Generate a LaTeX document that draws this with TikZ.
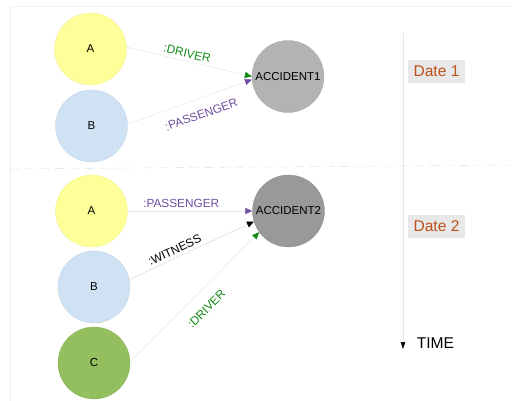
\documentclass[tikz,border=0pt]{standalone}
\usepackage{fontspec}
\setmainfont{Liberation Sans}
\usetikzlibrary{arrows.meta}
\definecolor{yel}{HTML}{FFFF99}
\definecolor{blu}{HTML}{CFE2F3}
\definecolor{grn}{HTML}{93BF5E}
\definecolor{acca}{HTML}{B3B3B3}
\definecolor{accb}{HTML}{999999}
\definecolor{drv}{HTML}{138A13}
\definecolor{psg}{HTML}{6E4E9E}
\definecolor{datec}{HTML}{C0501A}
\tikzset{
    person/.style={circle,minimum size=72pt,inner sep=0pt,fill=#1,draw=#1!92!black,line width=0.3pt,font=\fontsize{11.5}{13}\selectfont},
    rel/.style={line width=0.5pt,draw=#1!15,-{Triangle[length=7pt,width=6pt,color=#1]}},
    lbl/.style={sloped,text=#1,font=\fontsize{11.8}{13}\selectfont},
    datebox/.style={fill=gray!18,text=datec,minimum width=57pt,minimum height=23pt,inner sep=0pt,font=\fontsize{15.6}{17}\selectfont}
}
\begin{document}
\begin{tikzpicture}[x=1pt,y=-1pt]
\useasboundingbox (0,0) rectangle (512,401);
% frame and separator
\draw[gray!12] (10,401) -- (10,6) -- (512,6);
\draw[gray!25,dash pattern=on 9pt off 6pt] (10,169) -- (512,165);

% first date
\node[person=yel] (a1) at (90.5,49) {A};
\node[person=blu] (b1) at (91.5,126) {B};
\node[person=acca] (acc1) at (288,76.5) {ACCIDENT1};
\draw[rel=drv] (a1.3) -- (acc1.180) node[lbl=drv,pos=0.47,above]{:DRIVER};
\draw[rel=psg] (b1.3) -- (acc1.185) node[lbl=psg,pos=0.55,below=8pt]{:PASSENGER};

% second date
\node[person=yel] (a2) at (91.5,211) {A};
\node[person=blu] (b2) at (94,287) {B};
\node[person=grn] (c2) at (94,363) {C};
\node[person=accb] (acc2) at (288.5,211) {ACCIDENT2};
\draw[rel=psg] (a2.east) -- (acc2.west) node[lbl=psg,pos=0.43,above]{:PASSENGER};
\draw[rel=black] (b2.12) -- (acc2.197) node[lbl=black,pos=0.39,above]{:WITNESS};
\draw[rel=drv] (c2.2) -- (acc2.216) node[lbl=drv,pos=0.5,below=9pt]{:DRIVER};

% time axis
\coordinate (t0) at (403,33);
\coordinate (t1) at (403,349);
\draw[gray!20,line width=0.6pt,-{Triangle[length=7pt,width=4.5pt,color=black]}] (t0) -- (t1);
\node[font=\fontsize{15.6}{17}\selectfont] (time) at (435.5,343) {TIME};
\node[datebox] (d1) at (436.5,71.5) {Date 1};
\node[datebox] (d2) at (436.5,226.5) {Date 2};
\end{tikzpicture}
\end{document}
